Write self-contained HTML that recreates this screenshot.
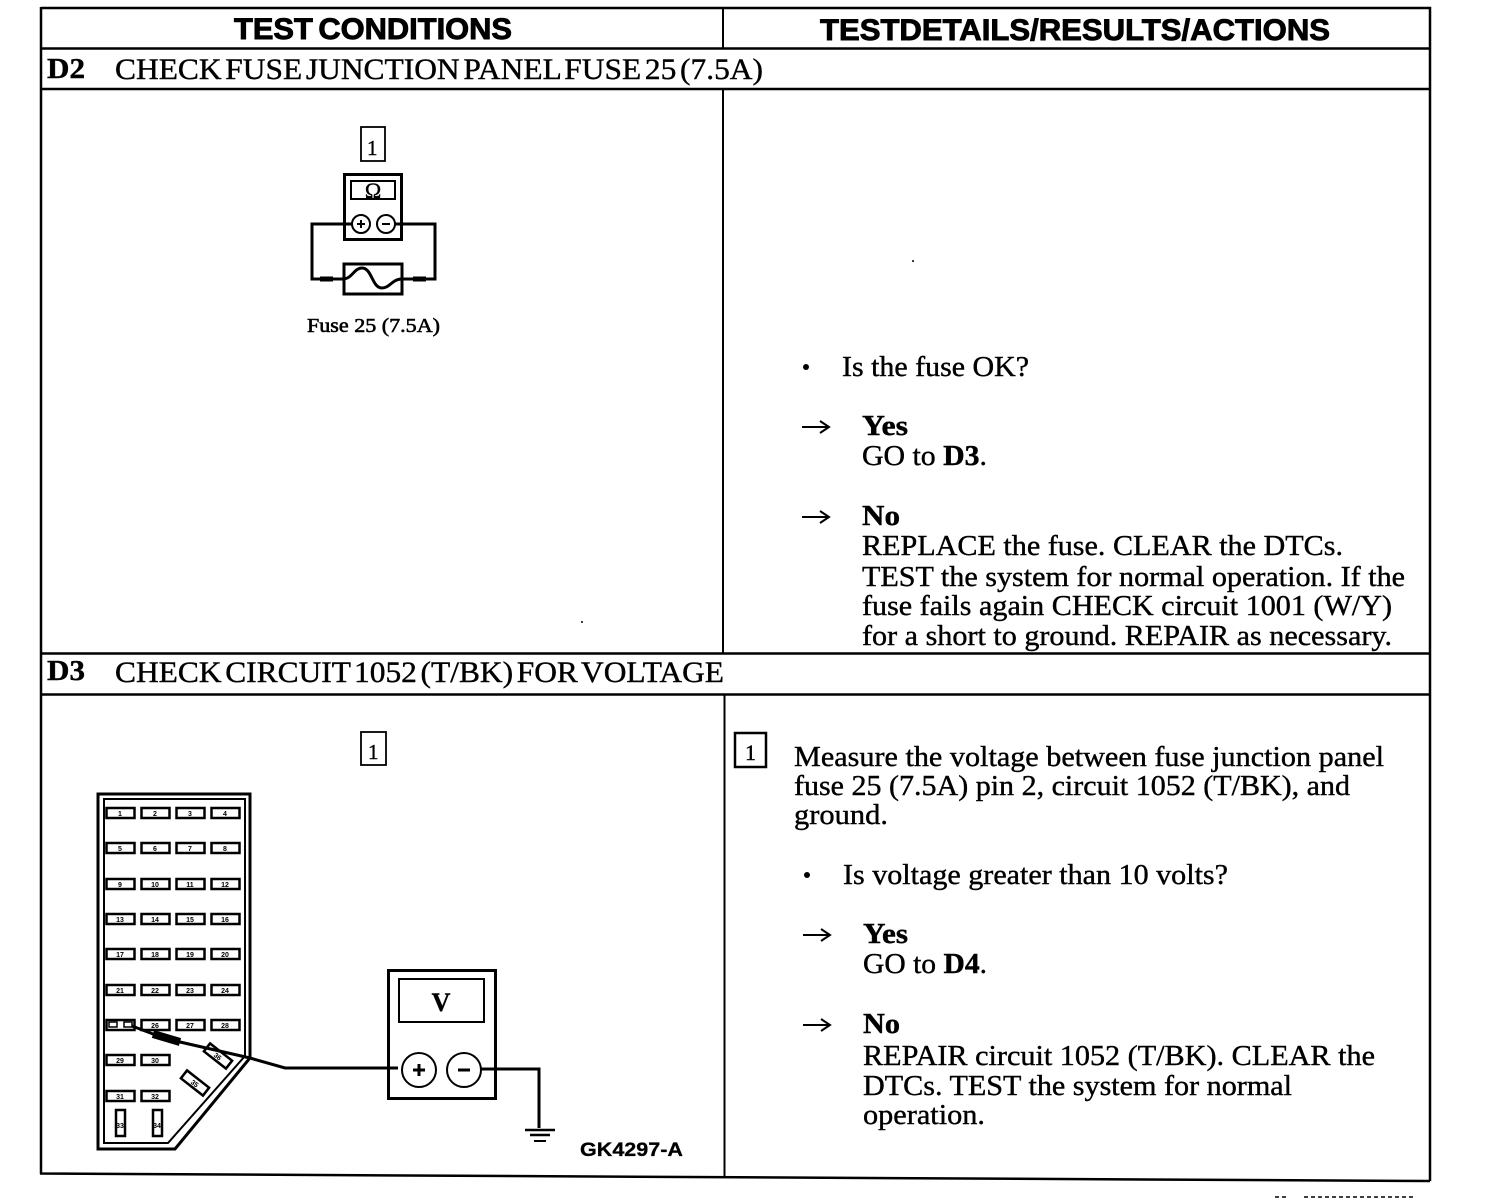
<!DOCTYPE html>
<html><head><meta charset="utf-8"><style>
html,body{margin:0;padding:0;background:#fff}
svg{display:block}
text{font-family:"Liberation Serif",serif;fill:#000;font-size:29px;stroke:#000;stroke-width:.4px}
.h{font-family:"Liberation Sans",sans-serif;font-weight:700;font-size:30px;stroke-width:.9px}
.b{font-weight:700}
.t{font-size:30px;word-spacing:-4px}
.s{font-family:"Liberation Sans",sans-serif;font-size:7px;font-weight:700;text-anchor:middle;stroke:none}
</style></head><body>
<svg width="1504" height="1198" viewBox="0 0 1504 1198" xmlns="http://www.w3.org/2000/svg">
<g stroke="#000" stroke-width="2.500" fill="none">
<path d="M41 8H1430V1181M41 7V1174M40 1173.500L1430 1181"/>
<path d="M41 48.500H1430M41 89H1430M41 653.500H1430M41 694.500H1430"/>
<path d="M723 8V48M723 89V653M724.500 695V1177" stroke-width="2"/>
</g>
<text class="h" x="234" y="39" textLength="278" lengthAdjust="spacingAndGlyphs" style="word-spacing:-3px">TEST CONDITIONS</text>
<text class="h" x="820" y="40" textLength="510" lengthAdjust="spacingAndGlyphs">TESTDETAILS/RESULTS/ACTIONS</text>
<text class="b" x="47" y="78" textLength="38" lengthAdjust="spacingAndGlyphs">D2</text>
<text class="t" x="115" y="79" textLength="648" lengthAdjust="spacingAndGlyphs">CHECK FUSE JUNCTION PANEL FUSE 25 (7.5A)</text>
<text class="b" x="47" y="680" textLength="38" lengthAdjust="spacingAndGlyphs">D3</text>
<text class="t" x="115" y="682" textLength="609" lengthAdjust="spacingAndGlyphs">CHECK CIRCUIT 1052 (T/BK) FOR VOLTAGE</text>

<!-- right column D2 -->
<circle cx="806" cy="367" r="3" fill="#000"/>
<text x="842" y="376" textLength="187" lengthAdjust="spacingAndGlyphs">Is the fuse OK?</text>
<path d="M802 427H827M820 421L829 427L820 433M802 517H827M820 511L829 517L820 523M803 935H828M821 929L830 935L821 941M803 1025H828M821 1019L830 1025L821 1031" stroke="#000" stroke-width="2" fill="none"/>
<text class="b" x="862" y="435" textLength="46" lengthAdjust="spacingAndGlyphs">Yes</text>
<text x="862" y="465" textLength="125" lengthAdjust="spacingAndGlyphs">GO to <tspan class="b">D3</tspan>.</text>
<text class="b" x="862" y="525" textLength="38" lengthAdjust="spacingAndGlyphs">No</text>
<text x="862" y="555" textLength="481" lengthAdjust="spacingAndGlyphs">REPLACE the fuse. CLEAR the DTCs.</text>
<text x="862" y="586" textLength="543" lengthAdjust="spacingAndGlyphs">TEST the system for normal operation. If the</text>
<text x="862" y="615" textLength="530" lengthAdjust="spacingAndGlyphs">fuse fails again CHECK circuit 1001 (W/Y)</text>
<text x="862" y="645" textLength="530" lengthAdjust="spacingAndGlyphs">for a short to ground. REPAIR as necessary.</text>

<!-- right column D3 -->
<rect x="735" y="733" width="31" height="34" fill="none" stroke="#000" stroke-width="2.500"/>
<text x="745" y="760" style="font-size:22px">1</text>
<text x="794" y="766" textLength="590" lengthAdjust="spacingAndGlyphs">Measure the voltage between fuse junction panel</text>
<text x="794" y="795" textLength="556" lengthAdjust="spacingAndGlyphs">fuse 25 (7.5A) pin 2, circuit 1052 (T/BK), and</text>
<text x="794" y="824" textLength="94" lengthAdjust="spacingAndGlyphs">ground.</text>
<circle cx="807" cy="875" r="3" fill="#000"/>
<text x="843" y="884" textLength="385" lengthAdjust="spacingAndGlyphs">Is voltage greater than 10 volts?</text>
<text class="b" x="863" y="943" textLength="45" lengthAdjust="spacingAndGlyphs">Yes</text>
<text x="863" y="973" textLength="124" lengthAdjust="spacingAndGlyphs">GO to <tspan class="b">D4</tspan>.</text>
<text class="b" x="863" y="1033" textLength="37" lengthAdjust="spacingAndGlyphs">No</text>
<text x="863" y="1065" textLength="512" lengthAdjust="spacingAndGlyphs">REPAIR circuit 1052 (T/BK). CLEAR the</text>
<text x="863" y="1095" textLength="429" lengthAdjust="spacingAndGlyphs">DTCs. TEST the system for normal</text>
<text x="863" y="1124" textLength="122" lengthAdjust="spacingAndGlyphs">operation.</text>

<!-- ohm meter -->
<rect x="361" y="127" width="24" height="34" fill="none" stroke="#000" stroke-width="1.800"/>
<text x="367" y="155" style="font-size:21px">1</text>
<g fill="none" stroke="#000">
<rect x="344.500" y="174.500" width="57" height="65" stroke-width="3"/>
<rect x="351" y="181" width="44" height="18" stroke-width="2"/>
<circle cx="361" cy="224" r="9" stroke-width="2"/>
<circle cx="386" cy="224" r="9" stroke-width="2"/>
<path d="M352 224H312V279H343M395 224H435V279H402" stroke-width="3"/>
<rect x="344" y="264" width="58" height="30" stroke-width="3"/>
<path d="M343 279C352 279 354 268 362 268C372 268 372 288 382 288C390 288 392 279 402 279" stroke-width="3"/>
<path d="M320 279H333M413 279H426" stroke-width="5"/>
<path d="M357 224H365M361 220V228M382 224H390" stroke-width="2"/>
</g>
<text x="373" y="198" text-anchor="middle" style="font-size:22px">Ω</text>
<text x="307" y="332" textLength="133" lengthAdjust="spacingAndGlyphs" style="font-size:20px;stroke-width:.6px">Fuse 25 (7.5A)</text>

<!-- D3 left -->
<rect x="361" y="732" width="25" height="33" fill="none" stroke="#000" stroke-width="1.800"/>
<text x="368" y="759" style="font-size:21px">1</text>
<g fill="none" stroke="#000">
<path d="M98 794H250V1058L175 1149H98Z" stroke-width="3"/>
<path d="M104 799H245V1056L168 1143H104Z" stroke-width="2"/>
<g stroke-width="2.500">
<rect x="106.500" y="808" width="28" height="10"/><rect x="141.500" y="808" width="28" height="10"/><rect x="176.500" y="808" width="28" height="10"/><rect x="211.500" y="808" width="28" height="10"/>
<rect x="106.500" y="843" width="28" height="10"/><rect x="141.500" y="843" width="28" height="10"/><rect x="176.500" y="843" width="28" height="10"/><rect x="211.500" y="843" width="28" height="10"/>
<rect x="106.500" y="879" width="28" height="10"/><rect x="141.500" y="879" width="28" height="10"/><rect x="176.500" y="879" width="28" height="10"/><rect x="211.500" y="879" width="28" height="10"/>
<rect x="106.500" y="914" width="28" height="10"/><rect x="141.500" y="914" width="28" height="10"/><rect x="176.500" y="914" width="28" height="10"/><rect x="211.500" y="914" width="28" height="10"/>
<rect x="106.500" y="949" width="28" height="10"/><rect x="141.500" y="949" width="28" height="10"/><rect x="176.500" y="949" width="28" height="10"/><rect x="211.500" y="949" width="28" height="10"/>
<rect x="106.500" y="985" width="28" height="10"/><rect x="141.500" y="985" width="28" height="10"/><rect x="176.500" y="985" width="28" height="10"/><rect x="211.500" y="985" width="28" height="10"/>
<rect x="106.500" y="1020" width="28" height="10"/><rect x="141.500" y="1020" width="28" height="10"/><rect x="176.500" y="1020" width="28" height="10"/><rect x="211.500" y="1020" width="28" height="10"/>
<rect x="106.500" y="1055" width="28" height="10"/><rect x="141.500" y="1055" width="28" height="10"/>
<rect x="106.500" y="1091" width="28" height="10"/><rect x="141.500" y="1091" width="28" height="10"/>
<rect x="116" y="1110" width="9" height="26"/><rect x="153" y="1110" width="9" height="26"/>
<rect x="-14" y="-5" width="28" height="10" transform="translate(218 1056) rotate(38)"/>
<rect x="-14" y="-5" width="28" height="10" transform="translate(195 1083) rotate(38)"/>
</g>
</g>
<g>
<text class="s" x="120" y="816">1</text><text class="s" x="155" y="816">2</text><text class="s" x="190" y="816">3</text><text class="s" x="225" y="816">4</text>
<text class="s" x="120" y="851">5</text><text class="s" x="155" y="851">6</text><text class="s" x="190" y="851">7</text><text class="s" x="225" y="851">8</text>
<text class="s" x="120" y="887">9</text><text class="s" x="155" y="887">10</text><text class="s" x="190" y="887">11</text><text class="s" x="225" y="887">12</text>
<text class="s" x="120" y="922">13</text><text class="s" x="155" y="922">14</text><text class="s" x="190" y="922">15</text><text class="s" x="225" y="922">16</text>
<text class="s" x="120" y="957">17</text><text class="s" x="155" y="957">18</text><text class="s" x="190" y="957">19</text><text class="s" x="225" y="957">20</text>
<text class="s" x="120" y="993">21</text><text class="s" x="155" y="993">22</text><text class="s" x="190" y="993">23</text><text class="s" x="225" y="993">24</text>
<text class="s" x="155" y="1028">26</text><text class="s" x="190" y="1028">27</text><text class="s" x="225" y="1028">28</text>
<text class="s" x="120" y="1063">29</text><text class="s" x="155" y="1063">30</text>
<text class="s" x="120" y="1099">31</text><text class="s" x="155" y="1099">32</text>
<text class="s" x="120" y="1128">33</text><text class="s" x="157" y="1128">34</text>
<text class="s" x="218" y="1059" transform="rotate(38 218 1056)">36</text>
<text class="s" x="195" y="1086" transform="rotate(38 195 1083)">35</text>
</g>
<g fill="none" stroke="#000">
<rect x="109" y="1022" width="8" height="5" stroke-width="1.500"/><rect x="124" y="1022" width="8" height="5" stroke-width="1.500"/>
<path d="M132 1026L153 1034L180 1042L250 1058L285 1068H398" stroke-width="3"/>
<path d="M153 1034L180 1042" stroke-width="8"/>
<rect x="388.500" y="970.500" width="107" height="128" stroke-width="3"/>
<rect x="399" y="979" width="85" height="43" stroke-width="2"/>
<circle cx="419" cy="1070" r="17" stroke-width="2"/>
<circle cx="464" cy="1070" r="17" stroke-width="2"/>
<path d="M413 1070H425M419 1064V1076M458 1070H470" stroke-width="3"/>
<path d="M481 1069H539V1128" stroke-width="3"/>
<path d="M525 1130H555" stroke-width="2.500"/><path d="M530 1135H550" stroke-width="2.500"/><path d="M534 1141H546" stroke-width="2"/>
</g>
<text x="441" y="1011" text-anchor="middle" class="b" style="font-size:26px">V</text>
<text class="h" x="580" y="1156" textLength="103" lengthAdjust="spacingAndGlyphs" style="font-size:19px;stroke-width:.3px">GK4297-A</text>
<circle cx="913" cy="261" r="1" fill="#000"/>
<circle cx="582" cy="622" r="1" fill="#000"/>
<path d="M1275 1197h4M1282 1197h4M1304 1197h112" stroke="#000" stroke-width="1.500" stroke-dasharray="4 3" fill="none"/>
</svg>
</body></html>
